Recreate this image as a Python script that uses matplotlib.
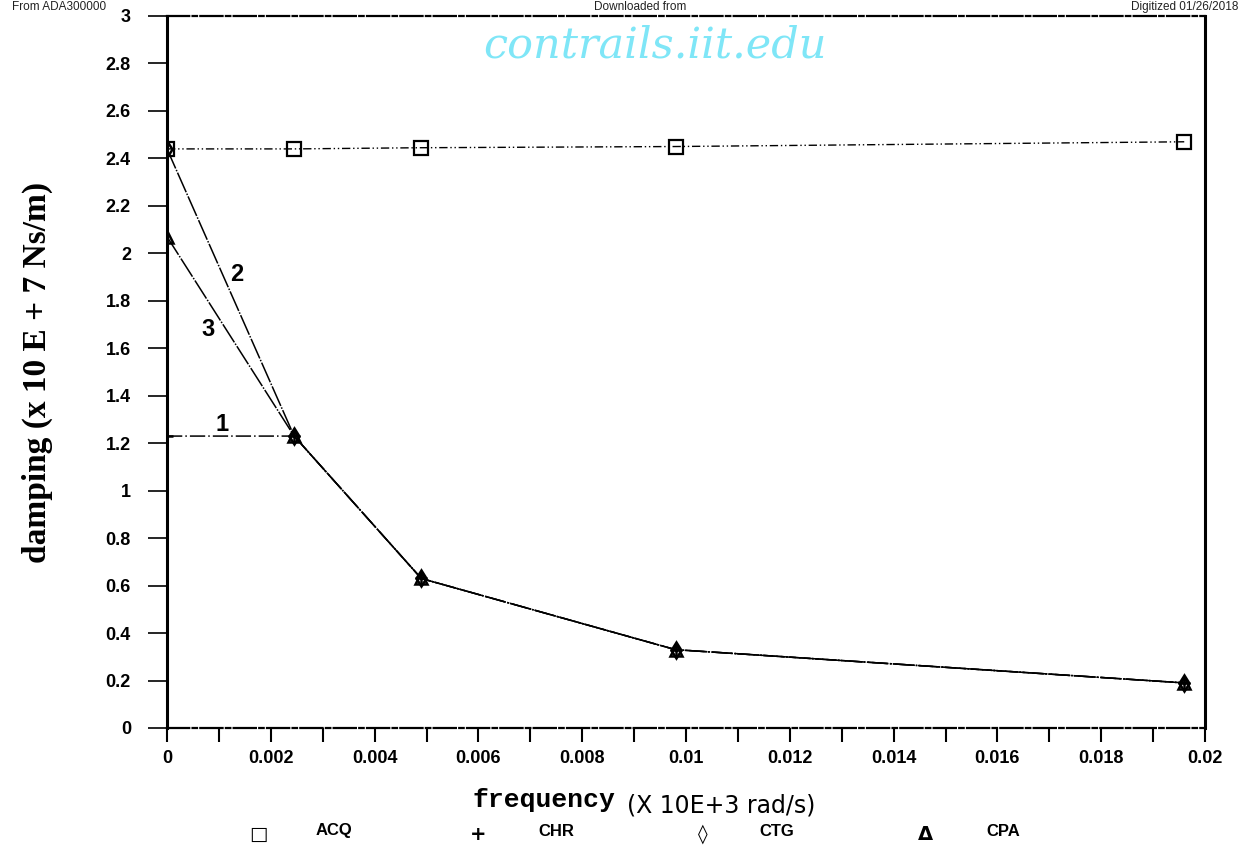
import matplotlib
matplotlib.use("Agg")
import matplotlib.pyplot as plt
from matplotlib.ticker import MultipleLocator

# damping vs. frequency for four estimation schemes
freq = [0.0, 0.00245, 0.0049, 0.0098, 0.0196]
acq = [2.44, 2.44, 2.445, 2.45, 2.47]
chr_ = [1.23, 1.23, 0.63, 0.33, 0.19]
ctg = [2.44, 1.23, 0.63, 0.33, 0.19]
cpa = [2.07, 1.23, 0.63, 0.33, 0.19]

y_ticks = [0, 0.2, 0.4, 0.6, 0.8, 1, 1.2, 1.4, 1.6, 1.8, 2, 2.2, 2.4, 2.6, 2.8, 3]
y_ticklabels = ["0", "0.2", "0.4", "0.6", "0.8", "1", "1.2", "1.4", "1.6", "1.8",
                "2", "2.2", "2.4", "2.6", "2.8", "3"]
x_ticks = [0, 0.002, 0.004, 0.006, 0.008, 0.01, 0.012, 0.014, 0.016, 0.018, 0.02]
x_ticklabels = ["0", "0.002", "0.004", "0.006", "0.008", "0.01", "0.012",
                "0.014", "0.016", "0.018", "0.02"]

legend_names = ["ACQ", "CHR", "CTG", "CPA"]
legend_symbols = ["\u25a1", "+", "\u25ca", "\u0394"]

# curve numbers and where they sit (data coords)
curve_ids = ["2", "3", "1"]
curve_id_x = [0.00135, 0.0008, 0.00106]
curve_id_y = [1.91, 1.68, 1.28]

fig = plt.figure(figsize=(12.42, 8.52), dpi=100)
ax = fig.add_axes([167 / 1242, 1 - 728 / 852, (1205 - 167) / 1242, (728 - 16) / 852])

dash_acq = (0, (6, 2, 1, 2, 1, 2))

ax.plot(freq, acq, color="black", lw=1.0, linestyle=dash_acq,
        marker="s", ms=10, mfc="none", mec="black", mew=1.6)
ax.plot(freq, chr_, color="black", lw=1.1, linestyle=(0, (10, 2, 1, 2)),
        marker="+", ms=9, mec="black", mew=1.8)
ax.plot(freq, ctg, color="black", lw=1.1, linestyle=(0, (14, 1, 1, 1)),
        marker="d", ms=8, mfc="none", mec="black", mew=1.8)
ax.plot(freq, cpa, color="black", lw=1.1, linestyle=(0, (14, 1, 1, 1)),
        marker="^", ms=9, mfc="none", mec="black", mew=1.8)

for s, x, y in zip(curve_ids, curve_id_x, curve_id_y):
    ax.text(x, y, s, fontsize=17, fontweight="bold", family="Liberation Sans",
            ha="center", va="center")

ax.set_xlim(0, 0.02)
ax.set_ylim(0, 3)
ax.set_yticks(y_ticks)
ax.set_yticklabels(y_ticklabels, fontsize=13, fontweight="bold", family="Liberation Sans")
ax.set_xticks(x_ticks)
ax.set_xticklabels(x_ticklabels, fontsize=13, fontweight="bold", family="Liberation Sans")
ax.xaxis.set_minor_locator(MultipleLocator(0.001))
ax.tick_params(axis="y", direction="out", length=14, width=1.2, pad=12)
ax.tick_params(axis="x", which="both", direction="out", length=10, width=1.5, pad=6)

for side in ["left", "right"]:
    ax.spines[side].set_linewidth(2.2)
for side in ["top", "bottom"]:
    ax.spines[side].set_linewidth(1.6)
    ax.spines[side].set_linestyle((0, (10, 1.5, 2, 1.5)))

ax.set_ylabel("damping (x 10 E + 7 Ns/m)", fontsize=24, fontweight="bold",
              family="Liberation Serif", labelpad=38)

# axis title split in two fonts
fig.text(472 / 1242, 1 - 800 / 852, "frequency", fontsize=19, fontweight="bold",
         family="Liberation Mono", va="center", ha="left")
fig.text(627 / 1242, 1 - 806 / 852, "(X 10E+3 rad/s)", fontsize=17,
         family="DejaVu Sans", va="center", ha="left")

# legend row
sym_x = [258, 478, 703, 925]
name_x = [334, 556, 777, 1003]
for sx, nx, sym, name in zip(sym_x, name_x, legend_symbols, legend_names):
    fig.text(sx / 1242, 1 - 834 / 852, sym, fontsize=14, fontweight="bold",
             family="DejaVu Sans", ha="center", va="center")
    fig.text(nx / 1242, 1 - 831 / 852, name, fontsize=12, fontweight="bold",
             family="Liberation Sans", ha="center", va="center")

# page header along the top edge
for x, s, ha in [(12, "From ADA300000", "left"), (640, "Downloaded from", "center"),
                 (1238, "Digitized 01/26/2018", "right")]:
    fig.text(x / 1242, 1 - 1 / 852, s, fontsize=8.5, family="Liberation Sans",
             ha=ha, va="top", color="#222222")

fig.text(655 / 1242, 1 - 45 / 852, "contrails.iit.edu", fontsize=31, style="italic",
         family="DejaVu Serif", color="#7fe6f7", ha="center", va="center")

fig.savefig("out.png", dpi=100)
